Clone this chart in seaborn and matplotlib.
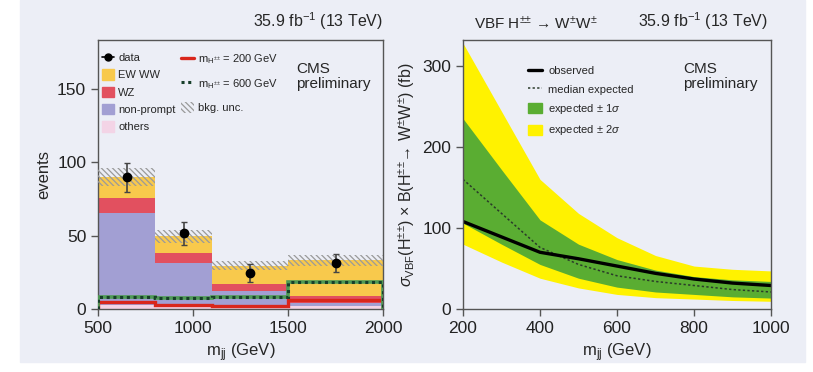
import seaborn as sns
import matplotlib.pyplot as plt
import matplotlib.patches as mpatches
from matplotlib.lines import Line2D
import numpy as np
import pandas as pd

# left panel: stacked backgrounds per mjj bin
edges = [500, 800, 1100, 1500, 2000]
others = [3, 2, 2, 2]
nonprompt = [62.5, 29, 10.5, 2]
wz = [10, 7, 4.5, 5]
ewww = [14.5, 11.5, 12.5, 24]
bkg_unc = [6, 4.5, 3, 3.5]
data_y = [89.5, 51.5, 24.5, 31.5]
data_err = [10, 8, 6.3, 6]
sig200 = [4.5, 3, 2.3, 6]
sig600 = [8, 7.3, 8, 18.7]

# right panel: limits vs mass
mass = [200, 300, 400, 500, 600, 700, 800, 900, 1000]
observed = [108, 89, 70, 62, 53, 44, 37, 32, 29]
median = [160, 118, 76, 55, 41, 34, 29, 24, 21]
s1_lo = [106, 80, 55, 38, 27, 21, 18, 15, 13.5]
s1_hi = [235, 172, 110, 80, 61, 48, 40, 36, 34]
s2_lo = [80, 58, 38, 26, 18, 14, 12.3, 10.5, 9.5]
s2_hi = [328, 244, 160, 118, 88, 66, 53, 49, 47]

bg = '#eceef6'
sns.set_theme(style='ticks')
plt.rcParams['font.family'] = ['Liberation Sans', 'DejaVu Sans']
plt.rcParams['mathtext.fontset'] = 'custom'
plt.rcParams['mathtext.rm'] = 'Liberation Sans'
plt.rcParams['mathtext.it'] = 'Liberation Sans:italic'
plt.rcParams['mathtext.sf'] = 'Liberation Sans'
plt.rcParams['axes.edgecolor'] = '#555555'
plt.rcParams['xtick.color'] = '#555555'
plt.rcParams['ytick.color'] = '#555555'
plt.rcParams['xtick.labelcolor'] = '#222222'
plt.rcParams['ytick.labelcolor'] = '#222222'
plt.rcParams['hatch.linewidth'] = 0.9

fig = plt.figure(figsize=(8.13, 3.72), dpi=100, facecolor='white')
fig.patches.append(mpatches.Rectangle((20/813, 10/372), 785/813, 362/372,
                                      transform=fig.transFigure, color=bg, zorder=-10))
ax1 = fig.add_axes([98/813, 63/372, 285/813, 269/372])
ax2 = fig.add_axes([463/813, 63/372, 308/813, 269/372])

colors = {'EW WW': '#f8c94c', 'WZ': '#e2505f', 'non-prompt': '#a29fd3', 'others': '#f3d4e6'}
centers = [(edges[i] + edges[i+1]) / 2 for i in range(4)]
rows = []
for name, vals in [('EW WW', ewww), ('WZ', wz), ('non-prompt', nonprompt), ('others', others)]:
    for c, v in zip(centers, vals):
        rows.append({'mjj': c, 'events': v, 'process': name})
df = pd.DataFrame(rows)
sns.histplot(data=df, x='mjj', weights='events', hue='process', bins=edges,
             multiple='stack', palette=colors, alpha=1, linewidth=0,
             hue_order=['EW WW', 'WZ', 'non-prompt', 'others'], legend=False, ax=ax1)

total = np.array(others) + np.array(nonprompt) + np.array(wz) + np.array(ewww)
widths = np.diff(edges)
hatch = '\\\\\\\\\\\\'
ax1.bar(centers, 2*np.array(bkg_unc), bottom=total-np.array(bkg_unc), width=widths,
        fill=False, hatch=hatch, edgecolor='#9a9a9a', linewidth=0, zorder=3)
ax1.stairs(sig200, edges, color='#d9261c', linewidth=2.4, zorder=4)
ax1.stairs(sig600, edges, color='#4e9a55', linewidth=2.6, zorder=4)
ax1.stairs(sig600, edges, color='#173f2a', linewidth=2.2, linestyle=(0, (1, 1.2)), zorder=4)
ax1.errorbar(centers, data_y, yerr=data_err, fmt='o', color='black', markersize=6,
             ecolor='#444444', elinewidth=1.2, capsize=2, zorder=5)

ax1.set_xlim(500, 2000)
ax1.set_ylim(0, 183)
ax1.set_xticks([500, 1000, 1500, 2000])
ax1.set_yticks([0, 50, 100, 150])
ax1.set_xlabel(r'm$_{\rm jj}$ (GeV)', fontsize=12)
ax1.set_ylabel('events', fontsize=12)
ax1.text(1.0, 1.03, r'35.9 fb$^{-1}$ (13 TeV)', transform=ax1.transAxes, ha='right',
         va='bottom', fontsize=11.5)
ax1.text(0.695, 0.92, 'CMS\npreliminary', transform=ax1.transAxes, ha='left', va='top',
         fontsize=11, linespacing=1.1)

h1 = [Line2D([], [], color='black', marker='o', markersize=5, linewidth=1.2),
      mpatches.Patch(color=colors['EW WW']), mpatches.Patch(color=colors['WZ']),
      mpatches.Patch(color=colors['non-prompt']), mpatches.Patch(color=colors['others'])]
leg1 = ax1.legend(h1, ['data', 'EW WW', 'WZ', 'non-prompt', 'others'], loc='upper left',
                  bbox_to_anchor=(0.015, 0.955), frameon=False, handlelength=1.1,
                  handleheight=1.1, handletextpad=0.35, labelspacing=0.55,
                  borderaxespad=0, borderpad=0, fontsize=8)
ax1.add_artist(leg1)
h2 = [Line2D([], [], color='#d9261c', linewidth=2.4),
      Line2D([], [], color='#173f2a', linewidth=2.2, linestyle=(0, (1, 1.2))),
      mpatches.Patch(facecolor='none', edgecolor='#9a9a9a', hatch=hatch, linewidth=0)]
ax1.legend(h2, [r'm$_{\rm H^{{\pm}{\pm}}}$ = 200 GeV', r'm$_{\rm H^{{\pm}{\pm}}}$ = 600 GeV',
                'bkg. unc.'],
           loc='upper left', bbox_to_anchor=(0.29, 0.955), frameon=False, handlelength=1.2,
           handleheight=1.1, handletextpad=0.35, labelspacing=1.0,
           borderaxespad=0, borderpad=0, fontsize=8)

# right panel
ax2.fill_between(mass, s2_lo, s2_hi, color='#fff200', linewidth=0)
ax2.fill_between(mass, s1_lo, s1_hi, color='#5aad32', linewidth=0)
sns.lineplot(x=mass, y=median, color='#2a3a2a', linestyle=(0, (1.5, 1.5)), linewidth=1.1, ax=ax2)
sns.lineplot(x=mass, y=observed, color='black', linewidth=2.4, ax=ax2)
ax2.set_xlim(200, 1000)
ax2.set_ylim(0, 332)
ax2.set_xticks([200, 400, 600, 800, 1000])
ax2.set_yticks([0, 100, 200, 300])
ax2.set_xlabel(r'm$_{\rm jj}$ (GeV)', fontsize=12)
ax2.set_ylabel(r'$\sigma_{\rm VBF}$(H$^{{\pm}{\pm}}$) × B(H$^{{\pm}{\pm}}$→ W$^{\pm}$W$^{\pm}$) (fb)',
               fontsize=11.5)
ax2.text(0.035, 1.03, r'VBF H$^{{\pm}{\pm}}$ → W$^{\pm}$W$^{\pm}$', transform=ax2.transAxes,
         ha='left', va='bottom', fontsize=11)
ax2.text(0.99, 1.03, r'35.9 fb$^{-1}$ (13 TeV)', transform=ax2.transAxes, ha='right',
         va='bottom', fontsize=11.5)
ax2.text(0.715, 0.92, 'CMS\npreliminary', transform=ax2.transAxes, ha='left', va='top',
         fontsize=11, linespacing=1.1)
h3 = [Line2D([], [], color='black', linewidth=2.4),
      Line2D([], [], color='#2a3a2a', linewidth=1.1, linestyle=(0, (1.5, 1.5))),
      mpatches.Patch(color='#5aad32'), mpatches.Patch(color='#fff200')]
ax2.legend(h3, ['observed', 'median expected', r'expected ± 1$\sigma$', r'expected ± 2$\sigma$'],
           loc='upper left', bbox_to_anchor=(0.21, 0.905), frameon=False, handlelength=1.3,
           handleheight=1.0, handletextpad=0.55, labelspacing=0.67,
           borderaxespad=0, borderpad=0, fontsize=8)

for ax in (ax1, ax2):
    ax.set_facecolor(bg)
    for s in ax.spines.values():
        s.set_visible(True)
        s.set_linewidth(1.0)
    ax.tick_params(labelsize=12.5, length=5, width=1.0, direction='out', top=False, right=False)

fig.savefig('out.png', dpi=100, facecolor='white')
